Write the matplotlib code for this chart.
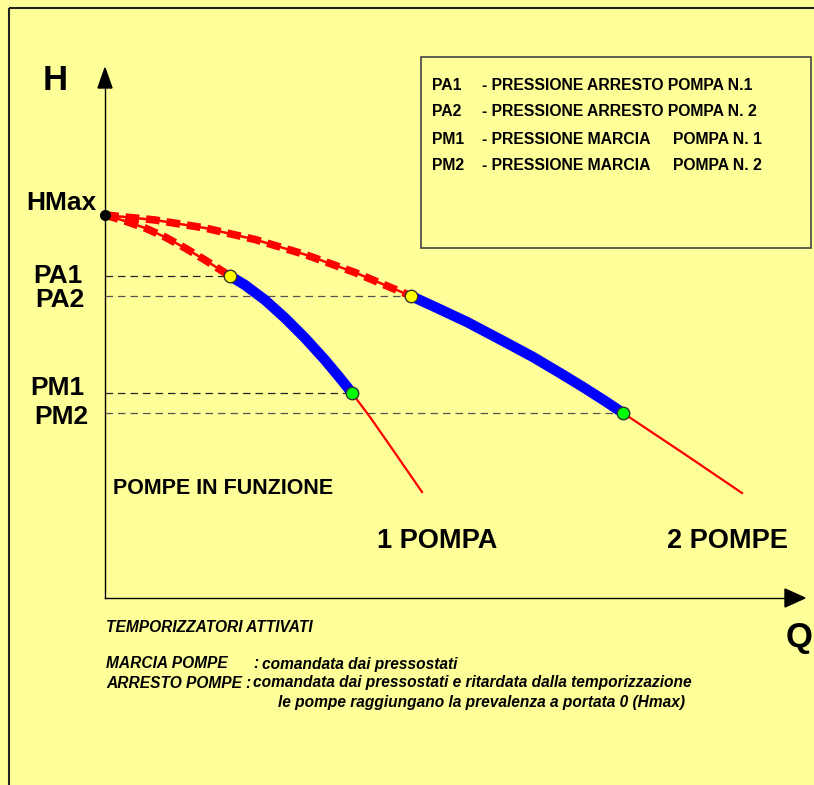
import matplotlib
matplotlib.use("Agg")
import matplotlib.pyplot as plt
from matplotlib.patches import Rectangle, Polygon

plt.rcParams['font.family'] = ['Liberation Sans', 'DejaVu Sans']

# ---------------- data (Q, H) ----------------
hmax = 3.83
pa1, pa2, pm1, pm2 = 3.22, 3.02, 2.05, 1.85

# 1 pompa curve
p1_dash_q = [0.00, 0.20, 0.40, 0.60, 0.80, 1.00, 1.25]
p1_dash_h = [3.83, 3.77, 3.70, 3.61, 3.50, 3.38, 3.22]
p1_blue_q = [1.25, 1.40, 1.60, 1.80, 2.00, 2.20, 2.35, 2.47]
p1_blue_h = [3.22, 3.13, 2.98, 2.80, 2.60, 2.38, 2.20, 2.05]
p1_red_q = [2.47, 2.65, 2.88, 3.17]
p1_red_h = [2.05, 1.81, 1.48, 1.06]

# 2 pompe curve
p2_dash_q = [0.00, 0.50, 1.00, 1.50, 2.00, 2.50, 3.06]
p2_dash_h = [3.83, 3.78, 3.70, 3.585, 3.435, 3.255, 3.02]
p2_blue_q = [3.06, 3.30, 3.62, 4.00, 4.28, 4.55, 4.78, 5.00, 5.18]
p2_blue_h = [3.02, 2.91, 2.76, 2.56, 2.41, 2.25, 2.11, 1.97, 1.85]
p2_red_q = [5.18, 5.78, 6.37]
p2_red_h = [1.85, 1.45, 1.05]

level_labels = ["HMax", "PA1", "PA2", "PM1", "PM2"]

legend_codes = ["PA1", "PA2", "PM1", "PM2"]
legend_desc = ["- PRESSIONE ARRESTO POMPA N.1", "- PRESSIONE ARRESTO POMPA N. 2",
               "- PRESSIONE MARCIA", "- PRESSIONE MARCIA"]
legend_tail = ["", "", "POMPA N. 1", "POMPA N. 2"]

BG = "#FFFF99"
W, Hpx = 814, 785
fig = plt.figure(figsize=(W / 100, Hpx / 100), dpi=100, facecolor=BG)

# background / annotation axes in pixel coordinates
bg = fig.add_axes([0, 0, 1, 1])
bg.set_xlim(0, W)
bg.set_ylim(Hpx, 0)
bg.axis("off")
bg.set_facecolor(BG)
bg.add_patch(Rectangle((9, 8), 1000, 1000, fill=False, edgecolor="#222222", lw=1.5))
bg.add_patch(Rectangle((421, 57), 390, 191, fill=False, edgecolor="#444444", lw=1.2))

# legend text
legend_y = [86, 112, 139, 166]
for y, c, d, t in zip(legend_y, legend_codes, legend_desc, legend_tail):
    bg.text(432, y, c, fontsize=11.3, fontweight="bold", va="center", ha="left")
    bg.text(482, y, d, fontsize=11.3, fontweight="bold", va="center", ha="left")
    if t:
        bg.text(673, y, t, fontsize=11.3, fontweight="bold", va="center", ha="left")

# big axis letters
bg.text(55, 80, "H", fontsize=25, fontweight="bold", ha="center", va="center")
bg.text(799, 637, "Q", fontsize=25, fontweight="bold", ha="center", va="center")

# level labels
bg.text(96, 203, level_labels[0], fontsize=19, fontweight="bold", ha="right", va="center")
bg.text(58, 276, level_labels[1], fontsize=19, fontweight="bold", ha="center", va="center")
bg.text(60, 300, level_labels[2], fontsize=19, fontweight="bold", ha="center", va="center")
bg.text(57, 388, level_labels[3], fontsize=19, fontweight="bold", ha="center", va="center")
bg.text(61, 417, level_labels[4], fontsize=19, fontweight="bold", ha="center", va="center")

bg.text(113, 488, "POMPE IN FUNZIONE", fontsize=15.5, fontweight="bold", ha="left", va="center")
bg.text(437, 541, "1 POMPA", fontsize=19.5, fontweight="bold", ha="center", va="center")
bg.text(727, 541, "2 POMPE", fontsize=19.5, fontweight="bold", ha="center", va="center")

# bottom notes
kw = dict(fontsize=11.2, fontweight="bold", fontstyle="italic", ha="left", va="center")
bg.text(106, 627, "TEMPORIZZATORI ATTIVATI", **kw)
bg.text(106, 664, "MARCIA POMPE", **kw)
bg.text(253, 664, ":", **kw)
bg.text(262, 664, "comandata dai pressostati", **kw)
bg.text(106, 683, "ARRESTO POMPE", **kw)
bg.text(245, 683, ":", **kw)
bg.text(253, 683, "comandata dai pressostati e ritardata dalla temporizzazione", **kw)
bg.text(278, 702, "le pompe raggiungano la prevalenza a portata 0 (Hmax)", **kw)

# ---------------- data axes ----------------
ax = fig.add_axes([105 / W, (Hpx - 598) / Hpx, 700 / W, 530 / Hpx])
ax.set_xlim(0, 7.0)
ax.set_ylim(0, 5.3)
ax.axis("off")
ax.patch.set_alpha(0)

# axes with arrows
ax.plot([0, 6.8], [0, 0], color="black", lw=1.0, clip_on=False)
ax.plot([0, 0], [0, 5.1], color="black", lw=1.0, clip_on=False)
ax.add_patch(Polygon([[6.8, 0.09], [7.0, 0.0], [6.8, -0.09]], closed=True, color="black", clip_on=False))
ax.add_patch(Polygon([[-0.07, 5.1], [0.0, 5.3], [0.07, 5.1]], closed=True, color="black", clip_on=False))

# horizontal dashed reference lines
ax.plot([0, p1_blue_q[0]], [pa1, pa1], color="#222222", lw=0.9, ls=(0, (6, 4)))
ax.plot([0, p2_blue_q[0]], [pa2, pa2], color="#555555", lw=0.9, ls=(0, (6, 4)))
ax.plot([0, p1_blue_q[-1]], [pm1, pm1], color="#222222", lw=0.9, ls=(0, (6, 4)))
ax.plot([0, p2_blue_q[-1]], [pm2, pm2], color="#555555", lw=0.9, ls=(0, (6, 4)))

RED = "#FF0000"
for dq, dh in [(p1_dash_q, p1_dash_h), (p2_dash_q, p2_dash_h)]:
    ax.plot(dq, dh, color=RED, lw=1.8, solid_capstyle="round")
    ax.plot(dq, dh, color=RED, lw=5.5, ls=(0, (1.8, 0.9)), dash_capstyle="butt")

for bq, bh in [(p1_blue_q, p1_blue_h), (p2_blue_q, p2_blue_h)]:
    ax.plot(bq, bh, color="#0000FF", lw=7.5, solid_capstyle="butt", solid_joinstyle="round")

for rq, rh in [(p1_red_q, p1_red_h), (p2_red_q, p2_red_h)]:
    ax.plot(rq, rh, color=RED, lw=1.6)

# markers
ax.plot([0], [hmax], "o", ms=7, mfc="black", mec="black", clip_on=False, zorder=5)
ax.plot([p1_blue_q[0], p2_blue_q[0]], [pa1, pa2], "o", ms=9, mfc="#FFFF00", mec="#333333", mew=1, zorder=5)
ax.plot([p1_blue_q[-1], p2_blue_q[-1]], [pm1, pm2], "o", ms=9, mfc="#00FF00", mec="#333333", mew=1, zorder=5)

fig.savefig("out.png", dpi=100, facecolor=BG)
